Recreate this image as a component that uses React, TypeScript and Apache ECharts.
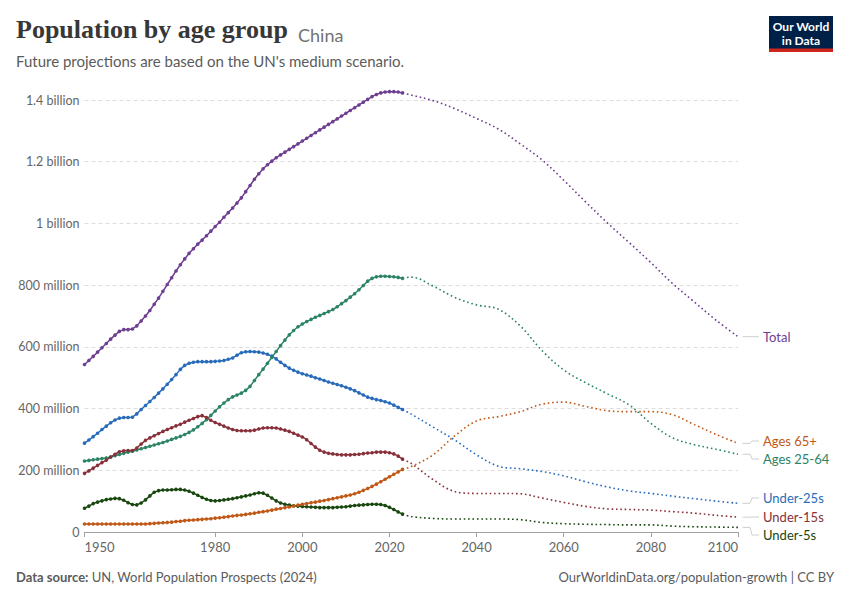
import React, { useEffect, useRef } from "react";
import * as echarts from "echarts";

// ---------- DATA (millions) ----------
const HIST_START = 1950;

const TOTAL_HIST = [
  543, 556, 569, 583, 597, 611, 625, 638, 650, 656,
  656, 658, 668, 684, 700, 718, 738, 758, 780, 802,
  824, 846, 866, 885, 903, 918, 933, 946, 960, 975,
  990, 1004, 1020, 1035, 1050, 1066, 1083, 1103, 1123, 1143,
  1161, 1177, 1190, 1202, 1213, 1222, 1231, 1240, 1249, 1258,
  1267, 1276, 1285, 1294, 1303, 1312, 1321, 1330, 1339, 1348,
  1357, 1366, 1375, 1384, 1393, 1402, 1411, 1418, 1423, 1426,
  1427, 1427, 1426, 1423,
];
const U25_HIST = [
  288, 298, 309, 320, 332, 343, 354, 363, 369, 371,
  371, 372, 383, 397, 410, 423, 436, 450, 464, 479,
  494, 510, 527, 540, 547, 550, 552, 552, 552, 552,
  553, 554, 556, 560, 564, 573, 581, 584, 585, 584,
  583, 580, 576, 570, 561, 550, 540, 531, 524, 518,
  513, 509, 505, 500, 496, 491, 486, 482, 478, 474,
  469, 464, 458, 451, 444, 437, 433, 429, 426, 422,
  418, 411, 404, 397,
];
const A2564_HIST = [
  230, 232, 234, 236, 238, 240, 243, 247, 251, 255,
  259, 262, 266, 270, 274, 278, 282, 286, 290, 295,
  300, 305, 310, 316, 323, 331, 341, 352, 364, 378,
  392, 406, 418, 429, 438, 444, 450, 459, 472, 491,
  510, 528, 547, 566, 585, 604, 622, 639, 653, 665,
  674, 682, 689, 696, 702, 708, 714, 721, 730, 740,
  750, 761, 772, 785, 799, 813, 822, 827, 829, 829,
  828, 827, 825, 822,
];
const U15_HIST = [
  190, 198, 207, 216, 225, 233, 243, 252, 260, 263,
  264, 264, 272, 285, 297, 305, 312, 319, 326, 332,
  338, 344, 349, 356, 362, 368, 374, 377, 371, 362,
  355, 349, 343, 337, 332, 329, 328, 328, 328, 330,
  334, 337, 338, 338, 337, 334, 330, 326, 320, 314,
  308, 299, 287, 275, 265, 259, 255, 253, 251, 250,
  250, 250, 251, 252, 254, 256, 257, 259, 259, 259,
  257, 253, 246, 236,
];
const U5_HIST = [
  77, 84, 92, 97, 101, 105, 107, 109, 108, 103,
  95, 89, 88, 94, 104, 117, 129, 134, 136, 136,
  137, 138, 138, 136, 132, 126, 119, 112, 106, 102,
  101, 102, 104, 106, 108, 111, 114, 117, 120, 124,
  127, 126, 119, 110, 101, 94, 90, 87, 85, 84,
  83, 82, 81, 80, 79, 79, 79, 79, 80, 81,
  82, 84, 86, 87, 88, 89, 90, 90, 89, 86,
  80, 73, 65, 58,
];
const A65_HIST = [
  26, 26, 26, 26, 26, 26, 26, 26, 26, 26,
  26, 26, 26, 26, 26, 27, 28, 29, 30, 31,
  32, 34, 35, 37, 38, 39, 40, 41, 42, 43,
  45, 46, 48, 50, 52, 54, 55, 57, 59, 61,
  64, 66, 68, 71, 74, 76, 79, 81, 84, 87,
  90, 92, 95, 97, 100, 102, 105, 108, 111, 114,
  117, 120, 124, 129, 135, 141, 148, 155, 163, 171,
  179, 187, 195, 203,
];

const PROJ_YEARS = [2023, 2025, 2030, 2035, 2040, 2045, 2050, 2055, 2060, 2065, 2070, 2075, 2080, 2085, 2090, 2095, 2100];
const TOTAL_PROJ = [1423, 1416, 1398, 1372, 1340, 1306, 1258, 1206, 1140, 1070, 1002, 938, 873, 805, 745, 686, 633];
const A2564_PROJ = [822, 826, 797, 760, 736, 722, 668, 588, 525, 484, 448, 412, 352, 305, 283, 268, 252];
const A65_PROJ = [203, 212, 250, 312, 360, 374, 390, 414, 421, 407, 393, 390, 390, 380, 348, 316, 287];
const U25_PROJ = [397, 382, 340, 298, 250, 213, 205, 196, 182, 163, 146, 133, 125, 116, 108, 100, 93];
const U15_PROJ = [236, 222, 170, 131, 125, 125, 124, 110, 96, 83, 75, 73, 71, 66, 61, 54, 48];
const U5_PROJ = [58, 50, 44, 42, 42, 42, 40, 31, 27, 25, 24, 23, 23, 19, 17, 16, 15];

const X_TICKS = [1950, 1980, 2000, 2020, 2040, 2060, 2080, 2100];

const GROUPS = [
  { name: "Total", color: "#6D3E91", hist: TOTAL_HIST, proj: TOTAL_PROJ },
  { name: "Under-25s", color: "#286BBB", hist: U25_HIST, proj: U25_PROJ },
  { name: "Ages 25-64", color: "#2C8465", hist: A2564_HIST, proj: A2564_PROJ },
  { name: "Under-15s", color: "#883039", hist: U15_HIST, proj: U15_PROJ },
  { name: "Under-5s", color: "#18470F", hist: U5_HIST, proj: U5_PROJ },
  { name: "Ages 65+", color: "#C05917", hist: A65_HIST, proj: A65_PROJ },
];

// label layout (pixel y of end labels; null = at line end)
const LABEL_Y: Record<string, number | null> = {
  "Total": null,
  "Ages 65+": 441,
  "Ages 25-64": 459,
  "Under-25s": 498,
  "Under-15s": 517,
  "Under-5s": 535,
};

const M = 1e6;

function yFmt(v: number) {
  if (v === 0) return "0";
  if (v >= 1e9) return `${+(v / 1e9).toFixed(1)} billion`;
  return `${Math.round(v / 1e6)} million`;
}

export default function App() {
  const ref = useRef<HTMLDivElement>(null);

  useEffect(() => {
    document.body.style.margin = "0";
    const el = ref.current!;
    const chart = echarts.init(el, undefined, { renderer: "svg" });

    const series: any[] = [];
    GROUPS.forEach((g) => {
      series.push({
        name: g.name,
        type: "line",
        data: g.hist.map((v, i) => [HIST_START + i, v * M]),
        showSymbol: true,
        symbol: "circle",
        symbolSize: 3.6,
        itemStyle: { color: g.color },
        lineStyle: { color: g.color, width: 1.5 },
        clip: false,
        silent: true,
        z: 3,
      });
      series.push({
        name: g.name + " proj",
        type: "line",
        data: PROJ_YEARS.map((y, i) => [y, g.proj[i] * M]),
        showSymbol: false,
        smooth: 0.35,
        itemStyle: { color: g.color },
        lineStyle: { color: g.color, width: 1.6, type: [1.6, 2.8] },
        clip: false,
        silent: true,
        z: 2,
      });
    });

    const option: any = {
      animation: false,
      textStyle: { fontFamily: "Lato" },
      grid: { left: 84.5, right: 112, top: 100, bottom: 68, containLabel: false },
      xAxis: {
        type: "value",
        min: 1950,
        max: 2100,
        axisLine: { show: true, lineStyle: { color: "#a1a1a1", width: 1 } },
        axisTick: { show: true, length: 5, customValues: X_TICKS, lineStyle: { color: "#a1a1a1" } },
        axisLabel: {
          customValues: X_TICKS,
          formatter: (v: number) => String(v),
          color: "#666",
          fontSize: 13,
          margin: 8,
          alignMinLabel: "left",
          alignMaxLabel: "right",
        },
        splitLine: { show: false },
      },
      yAxis: {
        type: "value",
        min: 0,
        max: 1.4e9,
        interval: 2e8,
        axisLine: { show: false },
        axisTick: { show: false },
        axisLabel: { formatter: yFmt, color: "#666", fontSize: 12.5, margin: 5 },
        splitLine: { show: true, lineStyle: { color: "#dddddd", type: [4, 3] } },
      },
      series,
    };
    chart.setOption(option);

    const graphics: any[] = [
      {
        type: "text",
        left: 16,
        top: 16,
        style: {
          text: "Population by age group",
          font: "bold 26px 'Liberation Serif', serif",
          fill: "#373737",
        },
      },
      {
        type: "text",
        x: 298,
        y: 35,
        style: {
          text: "China",
          fontFamily: "Lato",
          fontSize: 18,
          fill: "#737373",
          verticalAlign: "middle",
        },
      },
      {
        type: "text",
        x: 16,
        y: 61,
        style: {
          text: "Future projections are based on the UN's medium scenario.",
          fontFamily: "Lato",
          fontSize: 15,
          fill: "#5b5b5b",
          verticalAlign: "middle",
        },
      },
      // logo
      { type: "rect", shape: { x: 769, y: 16, width: 64, height: 36 }, style: { fill: "#002147" } },
      { type: "rect", shape: { x: 769, y: 48.5, width: 64, height: 3.5 }, style: { fill: "#CE261E" } },
      {
        type: "text",
        x: 801,
        y: 26.5,
        style: { text: "Our World", fontFamily: "Lato", fontWeight: "bold", fontSize: 12, fill: "#fff", align: "center", verticalAlign: "middle" },
      },
      {
        type: "text",
        x: 801,
        y: 40,
        style: { text: "in Data", fontFamily: "Lato", fontWeight: "bold", fontSize: 12, fill: "#fff", align: "center", verticalAlign: "middle" },
      },
      // footer
      {
        type: "text",
        x: 16,
        y: 577,
        style: {
          text: "{b|Data source:} UN, World Population Prospects (2024)",
          fontFamily: "Lato",
          fontSize: 13,
          fill: "#5b5b5b",
          verticalAlign: "middle",
          rich: { b: { fontWeight: "bold", fontFamily: "Lato", fontSize: 13, fill: "#5b5b5b" } },
        },
      },
      {
        type: "text",
        x: 834,
        y: 577,
        style: {
          text: "OurWorldinData.org/population-growth | CC BY",
          fontFamily: "Lato",
          fontSize: 13,
          fill: "#5b5b5b",
          align: "right",
          verticalAlign: "middle",
        },
      },
    ];

    GROUPS.forEach((g) => {
      const last = g.proj[g.proj.length - 1] * M;
      const p = chart.convertToPixel({ gridIndex: 0 }, [PROJ_YEARS[PROJ_YEARS.length - 1], last]) as number[];
      const ex = p[0];
      const ey = p[1];
      const ly = LABEL_Y[g.name] == null ? ey : (LABEL_Y[g.name] as number);
      graphics.push({
        type: "polyline",
        shape: { points: [[ex + 4.5, ey], [ex + 12, ey], [ex + 14, ly], [ex + 21, ly]] },
        style: { stroke: "#cfcfcf", lineWidth: 1, fill: null },
        silent: true,
      });
      graphics.push({
        type: "text",
        x: ex + 25,
        y: ly,
        style: {
          text: g.name,
          fontFamily: "Lato",
          fontSize: 13,
          fill: g.color,
          verticalAlign: "middle",
        },
      });
    });

    chart.setOption({ graphic: graphics });

    return () => chart.dispose();
  }, []);

  return <div ref={ref} style={{ width: 850, height: 600 }} />;
}
